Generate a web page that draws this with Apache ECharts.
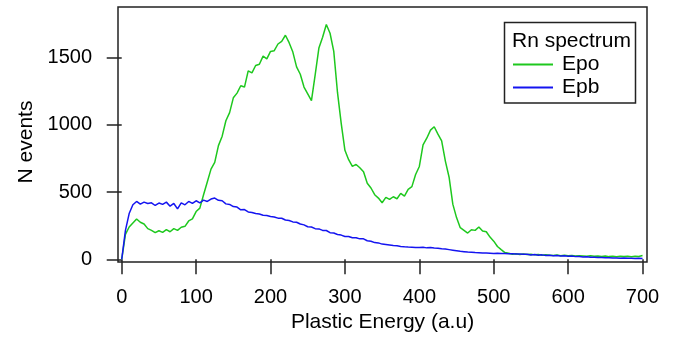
<!DOCTYPE html>
<html>
<head>
<meta charset="utf-8">
<script src="https://cdn.jsdelivr.net/npm/echarts@6/dist/echarts.min.js"></script>
<style>
  html, body { margin: 0; padding: 0; background: #fff; }
  #chart { width: 680px; height: 344px; }
</style>
</head>
<body>
<div id="chart"></div>
<script>
// histogram bins every 5 units of plastic energy, from 0 to 700
var binWidth = 5;
var epo = [
  0, 185, 240, 270, 300, 275, 262, 228, 215, 198,
  212, 200, 220, 205, 228, 215, 238, 245, 285, 300,
  355, 380, 480, 575, 670, 720, 845, 915, 1030, 1090,
  1200, 1235, 1290, 1280, 1400, 1385, 1440, 1450, 1510, 1490,
  1545, 1550, 1600, 1620, 1665, 1610, 1540, 1430, 1375, 1280,
  1230, 1180, 1370, 1570, 1650, 1745, 1680, 1545, 1240, 1010,
  810, 740, 690, 705, 680, 650, 565, 530, 480, 455,
  420, 460, 445, 465, 450, 490, 470, 520, 540, 630,
  690, 850, 900, 960, 985, 930, 880, 730, 610, 410,
  310, 235, 215, 195, 220, 215, 240, 210, 205, 165,
  135, 95, 72, 50, 45, 38, 42, 36, 40, 35,
  38, 33, 36, 30, 34, 31, 28, 32, 27, 30,
  26, 28, 24, 27, 25, 23, 26, 22, 25, 21,
  24, 20, 23, 19, 22, 20, 23, 19, 22, 21,
  28
];
var epb = [
  0, 215, 340, 405, 430, 410, 425, 415, 420, 400,
  418, 408, 425, 395, 415, 375, 420, 405, 430, 415,
  435, 420, 440, 430, 448, 455, 438, 435, 412, 408,
  392, 388, 368, 370, 352, 348, 340, 336, 328, 326,
  318, 315, 306, 305, 292, 288, 278, 275, 262, 256,
  242, 240, 228, 226, 215, 214, 198, 195, 184, 180,
  170, 170, 160, 160, 152, 152, 138, 134, 124, 122,
  113, 110, 106, 102, 100, 96, 93, 91, 90, 88,
  87, 89, 85, 87, 84, 82, 78, 76, 72, 68,
  64, 60, 57, 54, 52, 50, 49, 47, 46, 45,
  44, 45, 43, 44, 42, 41, 40, 40, 38, 37,
  32, 35, 30, 33, 28, 30, 26, 28, 24, 26,
  22, 24, 20, 21, 17, 19, 15, 16, 13, 14,
  11, 12, 9, 10, 8, 9, 7, 8, 6, 7,
  6
];
var xTicks = [0, 100, 200, 300, 400, 500, 600, 700];
var yTicks = [0, 500, 1000, 1500];

var font = "'Liberation Sans', Arial, sans-serif";

function toPoints(values) {
  return values.map(function (v, i) { return [i * binWidth, v]; });
}

var chart = echarts.init(document.getElementById('chart'));
chart.setOption({
  animation: false,
  backgroundColor: '#fff',
  grid: {
    left: 118, right: 33, top: 7, bottom: 82,
    show: true,
    borderColor: '#222',
    borderWidth: 1.5
  },
  xAxis: {
    type: 'value',
    min: -5,
    max: 706,
    name: 'Plastic Energy (a.u)',
    nameLocation: 'middle',
    nameGap: 50,
    nameTextStyle: { fontFamily: font, fontSize: 21, color: '#000' },
    axisLine: { show: false },
    splitLine: { show: false },
    axisTick: { show: true, length: 15, customValues: xTicks, lineStyle: { color: '#222', width: 1.5 } },
    axisLabel: { customValues: xTicks, margin: 25, fontFamily: font, fontSize: 20, color: '#000',
      formatter: function (v) { return String(v); } }
  },
  yAxis: {
    type: 'value',
    min: -20,
    max: 1875,
    name: 'N events',
    nameLocation: 'middle',
    nameGap: 75,
    nameRotate: 90,
    nameTextStyle: { fontFamily: font, fontSize: 21, color: '#000', padding: [0, 15, 0, 0] },
    axisLine: { show: false },
    splitLine: { show: false },
    axisTick: { show: true, length: 15, customValues: yTicks, lineStyle: { color: '#222', width: 1.5 } },
    axisLabel: { customValues: yTicks, margin: 26, fontFamily: font, fontSize: 20, color: '#000',
      formatter: function (v) { return String(v); } }
  },
  legend: {
    left: 513,
    top: 54,
    z: 10,
    orient: 'vertical',
    padding: 0,
    icon: 'rect',
    itemWidth: 40,
    itemHeight: 2,
    itemGap: 2,
    selectedMode: false,
    textStyle: { fontFamily: font, fontSize: 21, color: '#000', padding: [0, 0, 0, 4] },
    data: ['Epo', 'Epb']
  },
  graphic: [
    {
      type: 'rect',
      shape: { x: 504.5, y: 22.5, width: 131, height: 80.5 },
      style: { fill: '#fff', stroke: '#222', lineWidth: 1.5 },
      z: 5
    },
    {
      type: 'text',
      x: 512,
      y: 41,
      style: { text: 'Rn spectrum', font: '21px ' + font, fill: '#000', verticalAlign: 'middle' },
      z: 6
    }
  ],
  series: [
    {
      name: 'Epo',
      type: 'line',
      symbol: 'none',
      color: '#1ec81e',
      lineStyle: { width: 1.5, color: '#1ec81e' },
      data: toPoints(epo)
    },
    {
      name: 'Epb',
      type: 'line',
      symbol: 'none',
      color: '#1414f0',
      lineStyle: { width: 1.5, color: '#1414f0' },
      data: toPoints(epb)
    }
  ]
});
</script>
</body>
</html>
